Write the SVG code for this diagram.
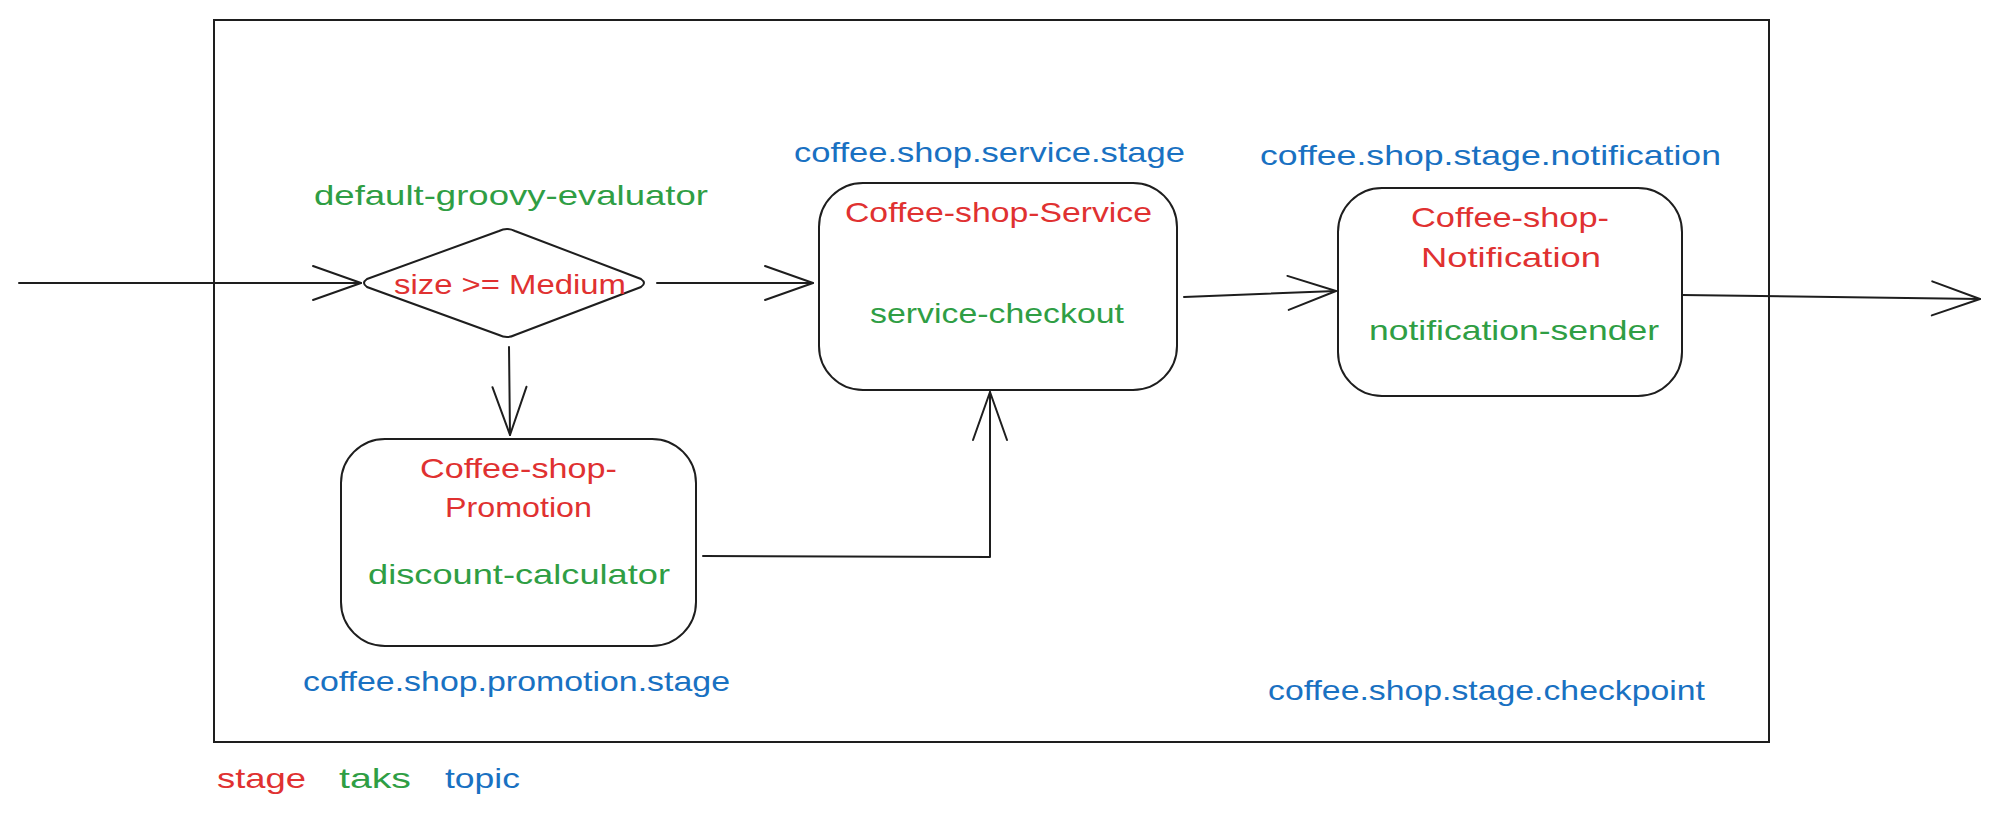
<svg xmlns="http://www.w3.org/2000/svg" width="1995" height="818" viewBox="0 0 1995 818">
<style>
text{font-family:"Liberation Sans","DejaVu Sans",sans-serif;font-size:28px}
.stage{fill:#e03131}
.task{fill:#2f9e44}
.topic{fill:#1971c2}
.box{fill:#ffffff;stroke:#1e1e1e;stroke-width:2}
.conn{fill:none;stroke:#1e1e1e;stroke-width:2;stroke-linejoin:round;stroke-linecap:round}
</style>
<defs>
<marker id="arr" markerUnits="userSpaceOnUse" viewBox="-60 -25 70 50" refX="0" refY="0" markerWidth="70" markerHeight="50" orient="auto" overflow="visible">
<path d="M-48,-17 L0,0 L-48,17" fill="none" stroke="#1e1e1e" stroke-width="2" stroke-linecap="round" stroke-linejoin="round"/>
</marker>
</defs>
<rect width="1995" height="818" fill="#ffffff"/>
<g id="frame">
<rect x="214" y="20" width="1555" height="722" fill="none" stroke="#1e1e1e" stroke-width="2"/>
</g>
<g id="connectors">
<path class="conn" d="M19,283 L361,283" marker-end="url(#arr)"/>
<path class="conn" d="M657,283 L813,283" marker-end="url(#arr)"/>
<path class="conn" d="M509,347 L510,435" marker-end="url(#arr)"/>
<path class="conn" d="M703,556 L990,557 L990,392" marker-end="url(#arr)"/>
<path class="conn" d="M1184,297 L1336,291" marker-end="url(#arr)"/>
<path class="conn" d="M1682,295 L1980,299" marker-end="url(#arr)"/>
</g>
<g id="decision">
<path class="box" d="M367,279 L499,231 Q507,227 515,231 L641,279 Q647,283 641,287 L515,335 Q507,339 499,335 L367,287 Q361,283 367,279 Z"/>
<text class="task" x="314" y="205" textLength="394" lengthAdjust="spacingAndGlyphs">default-groovy-evaluator</text>
<text class="stage" x="394" y="294" textLength="232" lengthAdjust="spacingAndGlyphs">size &gt;= Medium</text>
</g>
<g id="service">
<rect class="box" x="819" y="183" width="358" height="207" rx="44" ry="44"/>
<text class="topic" x="794" y="162" textLength="391" lengthAdjust="spacingAndGlyphs">coffee.shop.service.stage</text>
<text class="stage" x="845" y="222" textLength="307" lengthAdjust="spacingAndGlyphs">Coffee-shop-Service</text>
<text class="task" x="870" y="323" textLength="254" lengthAdjust="spacingAndGlyphs">service-checkout</text>
</g>
<g id="notification">
<rect class="box" x="1338" y="188" width="344" height="208" rx="44" ry="44"/>
<text class="topic" x="1260" y="165" textLength="461" lengthAdjust="spacingAndGlyphs">coffee.shop.stage.notification</text>
<text class="stage" x="1411" y="227" textLength="198" lengthAdjust="spacingAndGlyphs">Coffee-shop-</text>
<text class="stage" x="1421" y="267" textLength="180" lengthAdjust="spacingAndGlyphs">Notification</text>
<text class="task" x="1369" y="340" textLength="290" lengthAdjust="spacingAndGlyphs">notification-sender</text>
</g>
<g id="promotion">
<rect class="box" x="341" y="439" width="355" height="207" rx="44" ry="44"/>
<text class="stage" x="420" y="478" textLength="197" lengthAdjust="spacingAndGlyphs">Coffee-shop-</text>
<text class="stage" x="445" y="517" textLength="147" lengthAdjust="spacingAndGlyphs">Promotion</text>
<text class="task" x="368" y="584" textLength="302" lengthAdjust="spacingAndGlyphs">discount-calculator</text>
<text class="topic" x="303" y="691" textLength="427" lengthAdjust="spacingAndGlyphs">coffee.shop.promotion.stage</text>
</g>
<g id="checkpoint">
<text class="topic" x="1268" y="700" textLength="437" lengthAdjust="spacingAndGlyphs">coffee.shop.stage.checkpoint</text>
</g>
<g id="legend">
<text class="stage" x="217" y="788" textLength="89" lengthAdjust="spacingAndGlyphs">stage</text>
<text class="task" x="339" y="788" textLength="72" lengthAdjust="spacingAndGlyphs">taks</text>
<text class="topic" x="445" y="788" textLength="75" lengthAdjust="spacingAndGlyphs">topic</text>
</g>
</svg>
